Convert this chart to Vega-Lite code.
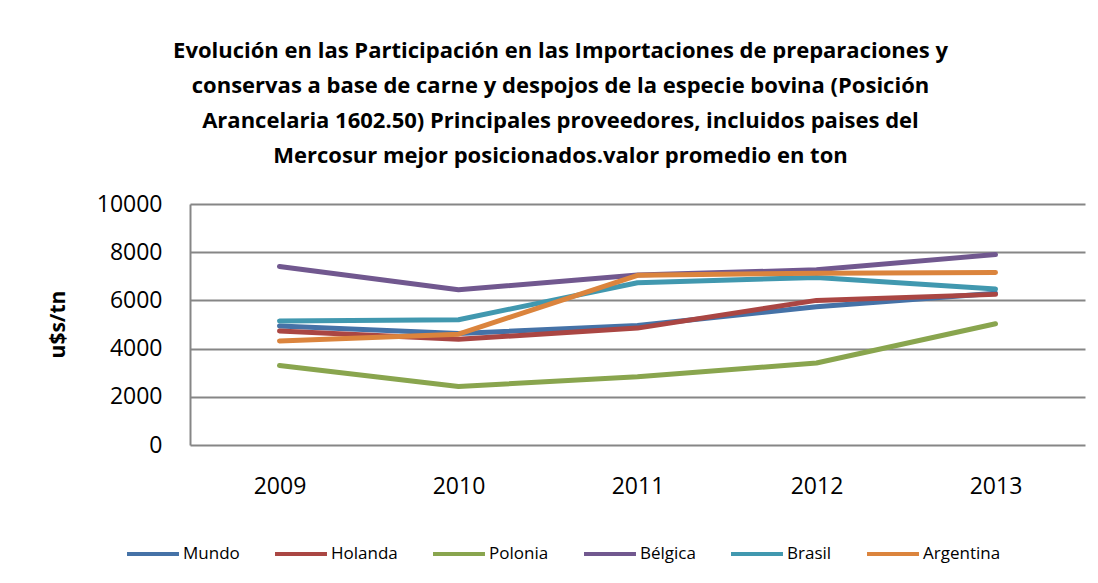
{
  "$schema": "https://vega.github.io/schema/vega-lite/v6.json",
  "width": 895,
  "height": 241,
  "autosize": {"type": "none"},
  "padding": {"left": 190, "top": 204, "right": 13, "bottom": 138},
  "background": "white",
  "title": {
    "text": [
      "Evolución en las Participación en las Importaciones de preparaciones y",
      "conservas a base de carne y despojos de la especie bovina (Posición",
      "Arancelaria 1602.50) Principales proveedores, incluidos paises del",
      "Mercosur mejor posicionados.valor promedio en ton"
    ],
    "anchor": "middle",
    "dx": -77,
    "offset": 25,
    "font": "Open Sans",
    "fontSize": 22,
    "fontWeight": "bold",
    "lineHeight": 35,
    "color": "black"
  },
  "data": {
    "values": [
      {"year": "2009", "pais": "Mundo", "valor": 4940},
      {"year": "2010", "pais": "Mundo", "valor": 4630},
      {"year": "2011", "pais": "Mundo", "valor": 4960},
      {"year": "2012", "pais": "Mundo", "valor": 5740},
      {"year": "2013", "pais": "Mundo", "valor": 6300},
      {"year": "2009", "pais": "Holanda", "valor": 4730},
      {"year": "2010", "pais": "Holanda", "valor": 4390},
      {"year": "2011", "pais": "Holanda", "valor": 4850},
      {"year": "2012", "pais": "Holanda", "valor": 6000},
      {"year": "2013", "pais": "Holanda", "valor": 6250},
      {"year": "2009", "pais": "Polonia", "valor": 3300},
      {"year": "2010", "pais": "Polonia", "valor": 2430},
      {"year": "2011", "pais": "Polonia", "valor": 2830},
      {"year": "2012", "pais": "Polonia", "valor": 3400},
      {"year": "2013", "pais": "Polonia", "valor": 5030},
      {"year": "2009", "pais": "Bélgica", "valor": 7410},
      {"year": "2010", "pais": "Bélgica", "valor": 6440},
      {"year": "2011", "pais": "Bélgica", "valor": 7050},
      {"year": "2012", "pais": "Bélgica", "valor": 7270},
      {"year": "2013", "pais": "Bélgica", "valor": 7900},
      {"year": "2009", "pais": "Brasil", "valor": 5150},
      {"year": "2010", "pais": "Brasil", "valor": 5200},
      {"year": "2011", "pais": "Brasil", "valor": 6730},
      {"year": "2012", "pais": "Brasil", "valor": 6950},
      {"year": "2013", "pais": "Brasil", "valor": 6470},
      {"year": "2009", "pais": "Argentina", "valor": 4320},
      {"year": "2010", "pais": "Argentina", "valor": 4600},
      {"year": "2011", "pais": "Argentina", "valor": 7040},
      {"year": "2012", "pais": "Argentina", "valor": 7130},
      {"year": "2013", "pais": "Argentina", "valor": 7160}
    ]
  },
  "mark": {"type": "line", "strokeWidth": 5, "strokeCap": "round", "strokeJoin": "round"},
  "encoding": {
    "x": {
      "field": "year",
      "type": "ordinal",
      "scale": {"type": "point", "padding": 0.5},
      "axis": {
        "title": null,
        "labelAngle": 0,
        "labelFont": "Open Sans",
        "labelFontSize": 23,
        "labelColor": "black",
        "labelPadding": 30,
        "ticks": false,
        "domain": false,
        "grid": false
      }
    },
    "y": {
      "field": "valor",
      "type": "quantitative",
      "scale": {"domain": [0, 10000], "nice": false},
      "axis": {
        "values": [0, 2000, 4000, 6000, 8000, 10000],
        "format": "d",
        "title": "u$s/tn",
        "titleFont": "Open Sans",
        "titleFontSize": 21,
        "titleFontWeight": "bold",
        "titleColor": "black",
        "titleX": -132,
        "titleY": 120,
        "titleAlign": "center",
        "titleBaseline": "middle",
        "labelFont": "Open Sans",
        "labelFontSize": 23,
        "labelColor": "black",
        "labelPadding": 28,
        "ticks": false,
        "domain": true,
        "domainColor": "#868686",
        "domainWidth": 2,
        "grid": true,
        "gridColor": "#868686",
        "gridWidth": 2
      }
    },
    "color": {
      "field": "pais",
      "type": "nominal",
      "sort": ["Mundo", "Holanda", "Polonia", "Bélgica", "Brasil", "Argentina"],
      "scale": {
        "domain": ["Mundo", "Holanda", "Polonia", "Bélgica", "Brasil", "Argentina"],
        "range": ["#4572A7", "#AA4643", "#89A54E", "#71588F", "#4198AF", "#DB843D"]
      },
      "legend": {
        "title": null,
        "orient": "none",
        "direction": "horizontal",
        "legendX": -65,
        "legendY": 322,
        "symbolType": "stroke",
        "symbolSize": 2700,
        "symbolStrokeWidth": 4,
        "labelFont": "Open Sans",
        "labelFontSize": 17,
        "labelColor": "black",
        "labelOffset": 2,
        "columnPadding": 27
      }
    },
    "order": {"field": "year"}
  },
  "config": {"view": {"stroke": null}}
}
